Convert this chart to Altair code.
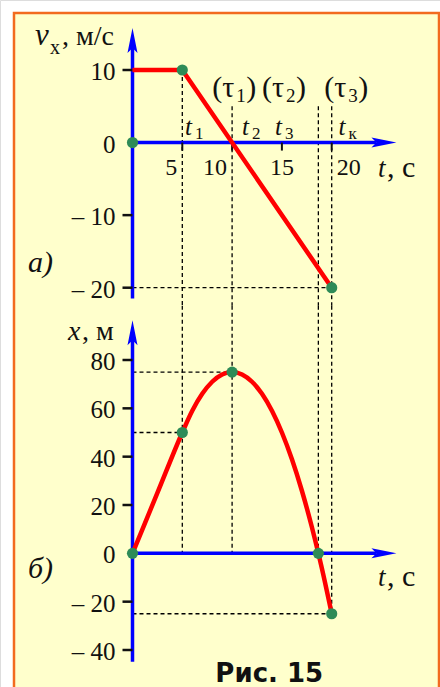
import altair as alt
import pandas as pd

# ---------- graph (а): velocity projection v_x(t) ----------
vel_t = [0, 5, 20]
vel_v = [10, 10, -20]
vel_dot_t = [0, 5, 20]
vel_dot_v = [0, 10, -20]

# ---------- graph (б): coordinate x(t) ----------
pos_t = [0, 2.5, 5, 6, 7, 8, 9, 10, 11, 12, 13, 14, 15, 16, 17, 18, 18.66, 19, 20]
pos_x = [0, 25, 50, 59, 66, 71, 74, 75, 74, 71, 66, 59, 50, 39, 26, 11, 0, -6, -25]
pos_dot_t = [0, 5, 10, 18.66, 20]
pos_dot_x = [0, 50, 75, 0, -25]

# ---------- axis ticks ----------
t_ticks = [5, 10, 15, 20]
t_tick_labels = ["5", "10", "15", "20"]
v_ticks = [10, 0, -10, -20]
v_tick_labels = ["10", "0", "– 10", "– 20"]
x_ticks = [80, 60, 40, 20, 0, -20, -40]
x_tick_labels = ["80", "60", "40", "20", "0", "– 20", "– 40"]

# moments marked by dashed guides
moment_t = [5, 10, 18.66, 20]
moment_v_top = [10, 5, 5, 5]        # where each guide starts in graph (а)
moment_x_end = [0, 0, 0, -25]       # where each guide ends in graph (б)

# labels of the moments on the time axis and of the intervals above it
moment_label_t = [5.27, 10.99, 14.31, 20.68]
moment_label_sub = ["1", "2", "3", "к"]
interval_label_t = [8.0, 13.0, 19.25]
interval_label_sub = ["1", "2", "3"]

# axis extents (arrow tips and lower ends)
v_axis = (-21.5, 15.8)
x_axis = (-44.9, 96.5)
t_axis_end = 26.5
v_edge, x_edge = -22.5, 102.5        # seam between the two graphs

FONT = "Liberation Serif"
INK = "#111111"
RED = "#FF0000"
BLUE = "#0000FF"
GREEN = "#2E8B57"
PAPER = "#FFFFCC"
FRAME = "#F26B1F"

T = alt.Scale(domain=[0, 20], range=[132.5, 331.7], nice=False, zero=False)
V = alt.Scale(domain=[-20, 10], range=[287.7, 70], nice=False, zero=False)
X = alt.Scale(domain=[-40, 80], range=[650, 360], nice=False, zero=False)

ARROW_UP = "M0,0 L0.4,2 L0,1.6 L-0.4,2 Z"
ARROW_RIGHT = "M0,0 L-2,-0.4 L-1.6,0 L-2,0.4 Z"


def xy(chart, ys):
    return chart.encode(
        x=alt.X("t:Q", scale=T, axis=None),
        y=alt.Y("y:Q", scale=ys, axis=None),
    )


def segments(df, ys, **kw):
    return alt.Chart(df).mark_rule(**kw).encode(
        x=alt.X("t:Q", scale=T, axis=None),
        x2="t2:Q",
        y=alt.Y("y:Q", scale=ys, axis=None),
        y2="y2:Q",
    )


def text(df, ys, **kw):
    style = dict(font=FONT, color=INK, baseline="alphabetic", align="left")
    style.update(kw)
    return xy(alt.Chart(df).mark_text(**style), ys).encode(text="s:N")


def dashed(df, ys):
    return segments(df, ys, color="#000000", strokeWidth=1.3, strokeDash=[4, 3])


def axes(ys, y_lo, y_hi):
    lines = pd.DataFrame({
        "t": [0, 0], "t2": [0, t_axis_end - 2.0],
        "y": [y_lo, 0], "y2": [y_hi - 2.6 * (1 if ys is V else 3), 0],
    })
    up = pd.DataFrame({"t": [0], "y": [y_hi]})
    right = pd.DataFrame({"t": [t_axis_end], "y": [0]})
    return [
        segments(lines, ys, color=BLUE, strokeWidth=3.5),
        xy(alt.Chart(up).mark_point(shape=ARROW_UP, size=625, filled=True,
                                    color=BLUE, opacity=1), ys),
        xy(alt.Chart(right).mark_point(shape=ARROW_RIGHT, size=625, filled=True,
                                       color=BLUE, opacity=1), ys),
    ]


def y_ticks(values, labels, ys):
    df = pd.DataFrame({"t": 0, "y": values, "s": labels})
    return [
        xy(alt.Chart(df[df.y != 0]).mark_tick(orient="horizontal", size=10,
                                               thickness=2.5, xOffset=-5,
                                               color=INK, opacity=1), ys),
        text(df, ys, align="right", baseline="middle", dx=-17, dy=2, fontSize=25),
    ]


# ================= graph (а) =================
top = []
top.append(dashed(pd.DataFrame({
    "t": moment_t, "t2": moment_t, "y": moment_v_top, "y2": [v_edge] * 4,
}), V))
top.append(dashed(pd.DataFrame({"t": [0], "t2": [20], "y": [-20], "y2": [-20]}), V))
top += axes(V, *v_axis)
top += y_ticks(v_ticks, v_tick_labels, V)
top.append(xy(alt.Chart(pd.DataFrame({"t": t_ticks, "y": 0})).mark_tick(
    orient="vertical", size=8, thickness=2, yOffset=4, color=INK, opacity=1), V))

tl = pd.DataFrame({"t": t_ticks, "y": 0, "s": t_tick_labels})
top.append(text(tl[tl.t < 15], V, align="right", dx=-5, dy=32, fontSize=24))
top.append(text(tl[tl.t == 15], V, align="center", dy=32, fontSize=24))
top.append(text(tl[tl.t > 15], V, align="left", dx=5, dy=32, fontSize=24))

top.append(xy(alt.Chart(pd.DataFrame({"t": vel_t, "y": vel_v})).mark_line(
    color=RED, strokeWidth=4.5), V))
top.append(xy(alt.Chart(pd.DataFrame({"t": vel_dot_t, "y": vel_dot_v})).mark_circle(
    size=125, color=GREEN, opacity=1), V))

ml = pd.DataFrame({"t": moment_label_t, "y": 0, "s": "t"})
top.append(text(ml, V, fontStyle="italic", fontSize=25, dy=-8))
top.append(text(ml.assign(s=moment_label_sub), V, fontSize=17, dx=10, dy=-4))

il = pd.DataFrame({"t": interval_label_t, "y": 0, "s": "(τ"})
top.append(text(il, V, fontSize=30, dy=-46))
top.append(text(il.assign(s=interval_label_sub), V, fontSize=19, dx=24, dy=-41))
top.append(text(il.assign(s=")"), V, fontSize=30, dx=34, dy=-46))

tt = pd.DataFrame({"t": [24.65], "y": [0], "s": ["t"]})
top.append(text(tt, V, fontStyle="italic", fontSize=27, dy=34))
top.append(text(tt.assign(s=", с"), V, fontSize=30, dx=9, dy=34))

vt = pd.DataFrame({"t": [-9.79], "y": [13.44], "s": ["v"]})
top.append(text(vt, V, fontStyle="italic", fontSize=31))
top.append(text(vt.assign(s="x"), V, fontSize=20, dx=15, dy=9))
top.append(text(vt.assign(s=", м/с"), V, fontSize=28, dx=27))
top.append(text(pd.DataFrame({"t": [-10.49], "y": [-17.83], "s": ["а)"]}), V,
                fontStyle="italic", fontSize=30))

# ================= graph (б) =================
bot = []
bot.append(dashed(pd.DataFrame({
    "t": moment_t, "t2": moment_t, "y": [x_edge] * 4, "y2": moment_x_end,
}), X))
bot.append(dashed(pd.DataFrame({
    "t": [0, 0, 0], "t2": [10, 5, 20], "y": [75, 50, -25], "y2": [75, 50, -25],
}), X))
bot += axes(X, *x_axis)
bot += y_ticks(x_ticks, x_tick_labels, X)
bot.append(xy(alt.Chart(pd.DataFrame({"t": pos_t, "y": pos_x})).mark_line(
    color=RED, strokeWidth=4.5, interpolate="monotone"), X))
bot.append(xy(alt.Chart(pd.DataFrame({"t": pos_dot_t, "y": pos_dot_x})).mark_circle(
    size=125, color=GREEN, opacity=1), X))

tb = pd.DataFrame({"t": [24.65], "y": [0], "s": ["t"]})
bot.append(text(tb, X, fontStyle="italic", fontSize=27, dy=33))
bot.append(text(tb.assign(s=", с"), X, fontSize=30, dx=9, dy=33))

xt = pd.DataFrame({"t": [-6.48], "y": [88.26], "s": ["x"]})
bot.append(text(xt, X, fontStyle="italic", fontSize=28))
bot.append(text(xt.assign(s=", м"), X, fontSize=28, dx=14))
bot.append(text(pd.DataFrame({"t": [-10.49], "y": [-10.2], "s": ["б)"]}), X,
                fontStyle="italic", fontSize=30))
bot.append(text(pd.DataFrame({"t": [13.73], "y": [-53.2], "s": ["Рис. 15"]}), X,
                font="DejaVu Sans", fontWeight="bold", fontSize=26, align="center"))

frame = alt.Chart(pd.DataFrame({"k": [0]})).mark_rect(
    fill=PAPER, stroke=FRAME, strokeWidth=2.5
).encode(x=alt.value(14), x2=alt.value(439), y=alt.value(13), y2=alt.value(720))

chart = (
    alt.layer(frame, alt.layer(*top), alt.layer(*bot))
    .resolve_scale(y="independent")
    .properties(width=440, height=687, padding=0, autosize="none")
    .configure_view(stroke=None)
    .configure(background="white")
)

chart.save("out.html", embed_options={"renderer": "svg", "actions": False})
